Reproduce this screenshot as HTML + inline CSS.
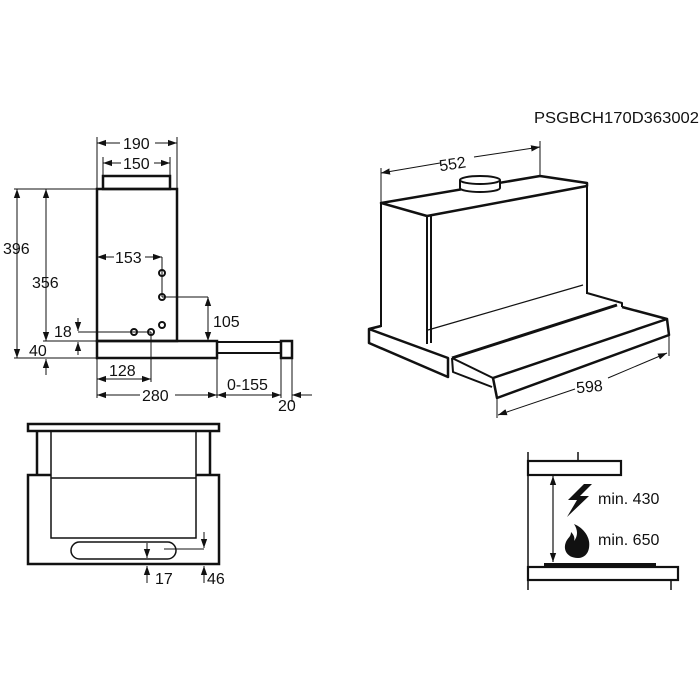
<!DOCTYPE html>
<html><head><meta charset="utf-8"><style>
html,body{margin:0;padding:0;background:#fff;}
svg{display:block}
text{font-family:"Liberation Sans",Arial,sans-serif;font-size:16px;fill:#111}
</style></head><body>
<svg width="700" height="700" viewBox="0 0 700 700" xmlns="http://www.w3.org/2000/svg">
<defs>
<marker id="a" viewBox="0 0 10 10" refX="10" refY="5" markerWidth="9" markerHeight="9" orient="auto-start-reverse" markerUnits="userSpaceOnUse"><path d="M0,1.5 L10,5 L0,8.5 Z" fill="#111"/></marker>
</defs>
<text x="534" y="123" style="font-size:16px" textLength="165" lengthAdjust="spacingAndGlyphs">PSGBCH170D363002</text>

<!-- side view -->
<g stroke="#111" fill="none">
<rect x="103" y="176" width="67" height="13" stroke-width="2.5"/>
<rect x="97" y="189" width="80" height="152" stroke-width="2.5"/>
<rect x="97" y="341" width="120" height="17" stroke-width="2.5"/>
<rect x="217" y="342" width="64" height="11" stroke-width="2"/>
<rect x="281" y="341" width="11" height="17" stroke-width="2.5"/>
<g stroke-width="1">
<line x1="97" y1="137" x2="97" y2="189"/><line x1="177" y1="137" x2="177" y2="189"/>
<line x1="103" y1="157" x2="103" y2="176"/><line x1="170" y1="157" x2="170" y2="176"/>
<line x1="97" y1="143" x2="120" y2="143" marker-start="url(#a)"/><line x1="155" y1="143" x2="177" y2="143" marker-end="url(#a)"/>
<line x1="103" y1="163" x2="121" y2="163" marker-start="url(#a)"/><line x1="154" y1="163" x2="170" y2="163" marker-end="url(#a)"/>
<line x1="14" y1="189" x2="97" y2="189"/><line x1="14" y1="358" x2="97" y2="358"/><line x1="43" y1="341" x2="97" y2="341"/>
<line x1="17" y1="189" x2="17" y2="358" marker-start="url(#a)" marker-end="url(#a)"/>
<line x1="46" y1="189" x2="46" y2="341" marker-start="url(#a)" marker-end="url(#a)"/>
<line x1="78" y1="355" x2="78" y2="342" marker-end="url(#a)"/>
<line x1="46" y1="375" x2="46" y2="359" marker-end="url(#a)"/>
<line x1="78" y1="318" x2="78" y2="331" marker-end="url(#a)"/>
<line x1="78" y1="332" x2="151" y2="332"/>
<line x1="97" y1="257" x2="114" y2="257" marker-start="url(#a)"/><line x1="145" y1="257" x2="162" y2="257" marker-end="url(#a)"/>
<line x1="162" y1="257" x2="162" y2="297"/>
<line x1="162" y1="297" x2="208" y2="297"/>
<line x1="208" y1="297" x2="208" y2="341" marker-start="url(#a)" marker-end="url(#a)"/>
<line x1="151" y1="332" x2="151" y2="382"/>
<line x1="97" y1="358" x2="97" y2="398"/><line x1="217" y1="358" x2="217" y2="398"/>
<line x1="281" y1="358" x2="281" y2="398"/><line x1="292" y1="358" x2="292" y2="402"/>
<line x1="97" y1="379" x2="151" y2="379" marker-start="url(#a)" marker-end="url(#a)"/>
<line x1="97" y1="395" x2="140" y2="395" marker-start="url(#a)"/><line x1="175" y1="395" x2="217" y2="395" marker-end="url(#a)"/>
<line x1="217" y1="395" x2="281" y2="395" marker-start="url(#a)" marker-end="url(#a)"/>
<line x1="312" y1="395" x2="292" y2="395" marker-end="url(#a)"/>
</g>
<g stroke-width="2"><circle cx="134" cy="332" r="3"/><circle cx="151" cy="332" r="3"/><circle cx="162" cy="325" r="3"/><circle cx="162" cy="297" r="3"/><circle cx="162" cy="273" r="3"/></g>
</g>
<text x="123" y="149">190</text><text x="123" y="169">150</text>
<text x="3" y="254">396</text><text x="32" y="288">356</text>
<text x="54" y="337">18</text><text x="29" y="356">40</text>
<text x="115" y="263">153</text><text x="213" y="327">105</text>
<text x="109" y="376">128</text><text x="142" y="401">280</text>
<text x="227" y="390">0-155</text><text x="278" y="411">20</text>

<!-- 3D view -->
<g stroke="#111" fill="none" stroke-linejoin="round">
<g stroke-width="1">
<line x1="381" y1="168" x2="381" y2="203"/><line x1="540" y1="141" x2="540" y2="176"/>
<line x1="381" y1="173" x2="440" y2="163" marker-start="url(#a)"/><line x1="474" y1="157" x2="540" y2="147" marker-end="url(#a)"/>
<line x1="497" y1="398" x2="497" y2="418"/><line x1="669" y1="335" x2="669" y2="356"/>
<line x1="498" y1="415" x2="575" y2="389" marker-start="url(#a)"/><line x1="608" y1="378" x2="667" y2="353" marker-end="url(#a)"/>
</g>
<path d="M381,203 L427,216 L587,186 L587,183 L540,176 Z" stroke-width="2.5"/>
<path d="M381,203 L381,327 M427,216 L427,344 M587,186 L587,294 M431,216 L431,343" stroke-width="2"/>
<path d="M428,330 L583,285" stroke-width="1.2"/>
<path d="M460,180 L460,188 A20,4 0 0 0 500,188 L500,180" fill="#fff" stroke-width="2"/>
<ellipse cx="480" cy="180" rx="20" ry="4" fill="#fff" stroke-width="2"/>
<path d="M369,329 L381,326 M369,329 L448,358 L448,377 L369,343 Z" stroke-width="2.5"/>
<path d="M587,293 L622,303 L622,307" stroke-width="2"/>
<path d="M452,358 L617,305" stroke-width="3"/>
<path d="M452,358 L453,372 L492,387 M452,358 L493,378" stroke-width="2"/>
<path d="M622,307 L667,319 L493,378 L497,398 L669,335 L667,319" stroke-width="2.5"/>
</g>
<text x="439" y="169" transform="rotate(-9 455 163)">552</text>
<text x="576" y="392" transform="rotate(-5 590 386)">598</text>

<!-- front view -->
<g stroke="#111" fill="none">
<rect x="28" y="424" width="191" height="7" stroke-width="2.5"/>
<path d="M37,431 L37,475 M210,431 L210,475" stroke-width="2.5"/>
<rect x="51" y="431" width="145" height="107" stroke-width="1.5"/>
<line x1="51" y1="478" x2="196" y2="478" stroke-width="1.5"/>
<path d="M51,475 L28,475 L28,564 L219,564 L219,475 L196,475" stroke-width="2.5"/>
<rect x="71" y="542" width="105" height="17" rx="8.5" stroke-width="1.5"/>
<g stroke-width="1">
<line x1="147" y1="543" x2="147" y2="558" marker-end="url(#a)"/>
<line x1="164" y1="549" x2="204" y2="549"/>
<line x1="204" y1="532" x2="204" y2="548" marker-end="url(#a)"/>
<line x1="147" y1="583" x2="147" y2="566" marker-end="url(#a)"/>
<line x1="204" y1="583" x2="204" y2="566" marker-end="url(#a)"/>
</g>
</g>
<text x="155" y="584">17</text><text x="207" y="584">46</text>

<!-- clearance -->
<g stroke="#111" fill="none">
<line x1="528" y1="452" x2="528" y2="590" stroke-width="1.5"/>
<line x1="578" y1="452" x2="578" y2="461" stroke-width="1.5"/>
<rect x="528" y="461" width="93" height="14" stroke-width="2.2" fill="#fff"/>
<line x1="553" y1="476" x2="553" y2="562" stroke-width="1.2" marker-start="url(#a)" marker-end="url(#a)"/>
<rect x="544" y="563" width="112" height="4" fill="#111" stroke="none"/>
<rect x="528" y="567" width="150" height="13" stroke-width="2.2" fill="#fff"/>
<line x1="671" y1="580" x2="671" y2="590" stroke-width="1.5"/>
</g>
<path d="M584,484 L568,500 L577,500 L567,517 L589,496 L580,496 L592,484 Z" fill="#111"/>
<path d="M578,558 C566,558 562,548 567,540 C569,537 571,536 571,532 C574,535 575,538 574,541 C578,536 578,530 574,524 C584,528 591,538 589,548 C588,554 584,558 578,558 Z" fill="#111"/>
<text x="598" y="504">min. 430</text><text x="598" y="545">min. 650</text>
</svg>
</body></html>
